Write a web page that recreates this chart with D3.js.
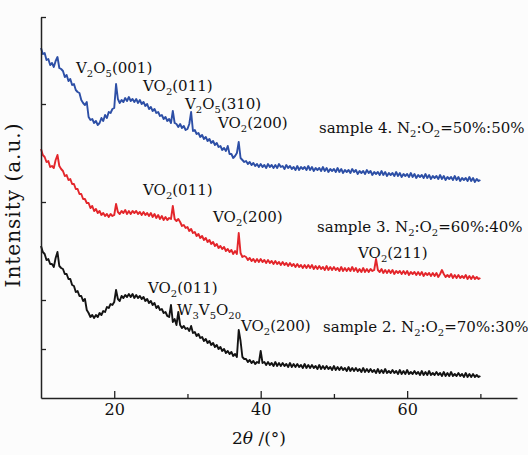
<!DOCTYPE html>
<html>
<head>
<meta charset="utf-8">
<script src="https://cdn.jsdelivr.net/npm/d3@7"></script>
<style>
  body { margin: 0; background: #fcfcfc; }
  svg { display: block; }
  text { font-family: "DejaVu Serif", serif; fill: #111; }
</style>
</head>
<body>
<svg id="chart" width="528" height="455"></svg>
<script>
// 2θ scan, 10°–70° in 0.25° steps
const twoTheta = d3.range(241).map(i => 10 + i * 0.25);

// sample 4, N2:O2 = 50%:50%
const sample4 = [
  350,344,345,338, 339,333,335,331, 337,341,330,329, 327,321,323,317,
  319,313,314,308, 306,305,298,295, 293,296,281,278, 279,275,277,273,
  275,280,277,283, 280,286,285,289, 290,314,299,295, 298,296,300,297,
  301,297,299,296, 299,295,298,294, 296,292,294,289, 291,287,289,285,
  286,282,283,279, 281,277,279,275, 287,275,274,271, 274,270,272,268,
  269,274,286,267, 268,264,265,261, 263,259,261,257, 259,255,257,253,
  255,251,252,248, 250,247,252,244, 244,240,242,245, 256,240,238,236,
  237,234,236,233, 235,232,234,231, 234,231,233,230, 234,231,233,230,
  233,230,234,231, 232,229,233,230, 232,229,231,228, 232,228,231,229,
  231,228,232,228, 231,227,230,228, 230,227,231,227, 230,226,229,227,
  229,226,230,226, 229,225,228,226, 228,225,229,226, 228,224,227,225,
  227,224,228,225, 227,223,226,224, 226,223,227,223, 226,222,225,223,
  225,222,226,222, 225,221,224,222, 224,221,225,221, 224,220,223,221,
  223,220,224,220, 223,219,222,220, 222,219,223,219, 222,218,221,219,
  221,218,222,218, 221,217,220,218, 220,217,221,217, 220,216,219,217,
  218
];

// sample 3, N2:O2 = 60%:40%
const sample3 = [
  249,243,241,236, 237,231,232,230, 238,243,232,229, 227,222,223,218,
  219,214,214,209, 209,204,204,199, 199,195,195,190, 192,187,189,185,
  187,183,185,182, 184,181,184,182, 183,194,186,184, 187,185,188,184,
  187,184,187,185, 187,184,186,183, 186,183,185,182, 185,181,184,180,
  183,179,182,178, 181,178,180,179, 192,179,177,179, 176,172,173,170,
  171,167,169,165, 166,162,164,160, 162,158,160,156, 158,154,156,152,
  154,150,152,149, 151,147,149,146, 148,144,147,144, 165,145,141,142,
  141,138,140,137, 139,136,139,136, 139,136,138,135, 138,135,137,134,
  137,134,136,133, 136,133,135,132, 135,132,134,131, 134,131,133,130,
  133,130,133,130, 133,129,132,129, 132,129,131,128, 132,128,131,128,
  131,128,130,127, 131,127,130,127, 130,127,131,127, 130,126,129,126,
  130,126,129,126, 129,127,128,139, 128,126,129,125, 128,125,128,125,
  128,124,127,125, 127,124,127,124, 127,123,126,124, 126,123,126,123,
  126,122,125,123, 125,122,125,122, 125,121,124,128, 124,121,123,121,
  124,120,123,120, 123,120,122,120, 123,119,122,119, 122,119,121,119,
  120
];

// sample 2, N2:O2 = 70%:30%
const sample2 = [
  152,146,144,138, 139,134,134,131, 140,146,132,130, 129,124,124,119,
  119,113,112,106, 107,102,102,97,  99,88,85,81,    83,80,83,81,
  85,83,87,86,     91,90,94,93,     96,108,99,97,   102,100,103,101,
  104,101,104,100, 103,100,102,99,  101,97,99,95,   97,93,95,90,
  92,88,89,85,     86,82,81,93,     76,79,73,86,    73,70,72,69,
  70,67,72,65,     66,62,64,60,     61,57,59,55,    57,53,55,51,
  53,49,51,47,     49,45,47,44,     46,42,44,41,    68,57,41,39,
  39,36,38,35,     37,34,36,35,     47,35,36,33,    36,33,35,32,
  36,32,35,32,     35,32,34,31,     35,31,34,31,    34,31,33,30,
  34,30,33,30,     33,30,32,29,     33,29,32,29,    32,29,31,28,
  32,28,31,28,     31,28,30,27,     31,27,30,27,    30,27,29,26,
  30,26,29,26,     29,26,28,25,     29,25,28,25,    29,25,27,25,
  28,25,27,24,     28,24,27,24,     28,24,26,24,    27,24,26,23,
  27,23,26,23,     27,23,25,23,     26,23,25,22,    26,22,25,22,
  26,22,24,22,     25,22,24,21,     25,21,24,21,    24,21,23,21,
  22
];

const seriesNames = ["sample 4", "sample 3", "sample 2"];
const seriesValues = [sample4, sample3, sample2];
const seriesColors = ["#2d4fa6", "#e3262b", "#141414"];

const majorTicks = [20, 40, 60];
const minorTicks = [30, 50, 70];
const yTicks = [49, 98, 196, 294, 381];

// peak / sample labels, anchored in data units (2θ, intensity); "_n" marks a subscript
const annotations = [
  { text: "V_2O_5(001)", at: [14.78, 325] },
  { text: "VO_2(011)", at: [23.93, 307] },
  { text: "V_2O_5(310)", at: [29.66, 289] },
  { text: "VO_2(200)", at: [34.17, 270] },
  { text: "sample 4. N_2:O_2=50%:50%", at: [47.96, 265] },
  { text: "VO_2(011)", at: [23.93, 203] },
  { text: "VO_2(200)", at: [33.49, 176] },
  { text: "sample 3. N_2:O_2=60%:40%", at: [47.69, 166] },
  { text: "VO_2(211)", at: [53.29, 140] },
  { text: "VO_2(011)", at: [24.61, 105] },
  { text: "W_3V_5O_20", at: [28.57, 83] },
  { text: "VO_2(200)", at: [37.31, 67] },
  { text: "sample 2. N_2:O_2=70%:30%", at: [48.51, 66] }
];

const svg = d3.select("#chart");
const x = d3.scaleLinear().domain([10, 75]).range([41, 517]);
const y = d3.scaleLinear().domain([0, 381]).range([398, 17]);

// diffraction traces
const line = d3.line()
  .x((d, i) => x(twoTheta[i]))
  .y(d => y(d));

svg.append("g")
  .selectAll("path")
  .data(seriesValues)
  .join("path")
  .attr("d", line)
  .attr("fill", "none")
  .attr("stroke", (d, i) => seriesColors[i])
  .attr("stroke-width", 1.9)
  .attr("stroke-linejoin", "round");

// axes with inward ticks
const axisColor = "#222";
const gx = svg.append("g").attr("transform", "translate(0,398)");
gx.call(d3.axisBottom(x).tickValues(majorTicks).tickSize(-7).tickSizeOuter(0).tickPadding(6).tickFormat(d3.format("d")));
svg.append("g").attr("transform", "translate(0,398)")
  .call(d3.axisBottom(x).tickValues(minorTicks).tickSize(-4).tickSizeOuter(0).tickFormat(""))
  .select(".domain").remove();
const gy = svg.append("g").attr("transform", "translate(41,0)");
gy.call(d3.axisLeft(y).tickValues(yTicks).tickSize(-5).tickSizeOuter(0).tickFormat(""));

svg.selectAll(".domain").attr("stroke", axisColor).attr("stroke-width", 1.5);
svg.selectAll(".tick line").attr("stroke", axisColor).attr("stroke-width", 1.3);
gx.selectAll(".tick text")
  .attr("font-family", "DejaVu Serif, serif")
  .attr("font-size", 16)
  .attr("fill", "#111");

// axis titles
svg.append("text")
  .attr("x", 259).attr("y", 444)
  .attr("text-anchor", "middle")
  .attr("font-size", 17)
  .call(t => {
    t.append("tspan").text("2");
    t.append("tspan").attr("font-style", "italic").text("θ");
    t.append("tspan").text(" /(°)");
  });

svg.append("text")
  .attr("transform", "translate(20,205) rotate(-90)")
  .attr("text-anchor", "middle")
  .attr("font-size", 20)
  .attr("letter-spacing", 1)
  .text("Intensity (a.u.)");

// text with subscripts
function richText(sel, str) {
  const parts = str.split(/_(\d+)/);
  let lowered = false;
  parts.forEach((p, i) => {
    if (!p) return;
    const t = sel.append("tspan").text(p);
    if (i % 2 === 1) {
      t.attr("font-size", 10);
      if (!lowered) { t.attr("dy", 4); lowered = true; }
    } else if (lowered) {
      t.attr("dy", -4);
      lowered = false;
    }
  });
}

svg.append("g")
  .selectAll("text")
  .data(annotations)
  .join("text")
  .attr("x", d => x(d.at[0]))
  .attr("y", d => y(d.at[1]))
  .attr("font-size", 15)
  .each(function(d) { richText(d3.select(this), d.text); });
</script>
</body>
</html>
